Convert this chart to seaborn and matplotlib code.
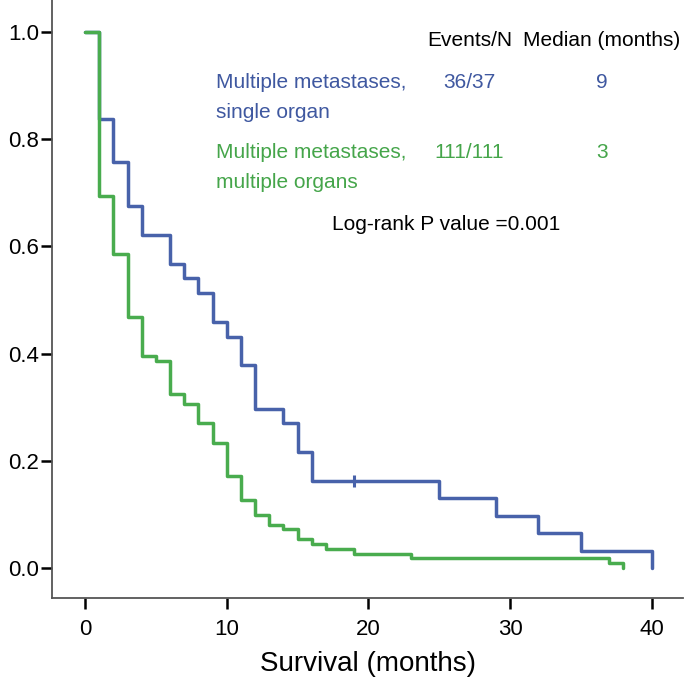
import numpy as np
import pandas as pd
import matplotlib
matplotlib.use("Agg")
import matplotlib.pyplot as plt
import seaborn as sns

# Kaplan-Meier step values
single_times = [0, 1, 2, 3, 4, 6, 7, 8, 9, 10, 11, 12, 14, 15, 16, 25, 29, 32, 35, 40]
single_surv = [1.0, 0.838, 0.757, 0.676, 0.622, 0.568, 0.541, 0.514, 0.459, 0.432,
               0.378, 0.297, 0.270, 0.216, 0.162, 0.130, 0.097, 0.065, 0.032, 0.0]
single_censor_t = [19]
single_censor_s = [0.162]

multi_times = [0, 1, 2, 3, 4, 5, 6, 7, 8, 9, 10, 11, 12, 13, 14, 15, 16, 17, 19, 23, 37, 38]
multi_surv = [1.0, 0.694, 0.586, 0.468, 0.396, 0.387, 0.324, 0.306, 0.270, 0.234, 0.171,
              0.126, 0.099, 0.081, 0.072, 0.054, 0.045, 0.036, 0.027, 0.018, 0.009, 0.0]

groups = ["single organ", "multiple organs"]
events_n = ["36/37", "111/111"]
medians = ["9", "3"]
x_ticks = [0, 10, 20, 30, 40]
y_ticks = [0.0, 0.2, 0.4, 0.6, 0.8, 1.0]

blue = "#4862AA"
green = "#49AC4E"
blue_txt = "#3F58A0"
green_txt = "#45A54A"

df = pd.concat([
    pd.DataFrame({"time": single_times, "surv": single_surv, "group": groups[0]}),
    pd.DataFrame({"time": multi_times, "surv": multi_surv, "group": groups[1]}),
])

sns.set_style("ticks")
plt.rcParams["font.family"] = ["Liberation Sans", "DejaVu Sans"]

fig = plt.figure(figsize=(6.86, 6.80), dpi=100)
ax = fig.add_axes([52 / 686, 82 / 680, 631 / 686, 598 / 680])

sns.lineplot(data=df, x="time", y="surv", hue="group", hue_order=groups,
             palette=[blue, green], estimator=None, drawstyle="steps-post",
             linewidth=2.5, legend=False, ax=ax)
ax.plot(single_censor_t, single_censor_s, marker="|", color=blue, markersize=8,
        markeredgewidth=2.2, linestyle="none")

ax.set_xlim(-2.33, 42.2)
ax.set_ylim(-0.056, 1.06)
ax.set_xticks(x_ticks)
ax.set_yticks(y_ticks)
ax.set_yticklabels([f"{v:.1f}" for v in y_ticks])
ax.tick_params(axis="both", labelsize=16, length=8, width=1.8, color="black",
               labelcolor="black")
ax.tick_params(axis="x", pad=7)
ax.tick_params(axis="y", pad=1.5)
ax.set_xlabel("Survival (months)", fontsize=20, labelpad=8, color="black")
ax.set_ylabel("")
for s in ["top", "right"]:
    ax.spines[s].set_visible(False)
for s in ["left", "bottom"]:
    ax.spines[s].set_color("#555555")
    ax.spines[s].set_linewidth(1.3)

def px(x, y):
    return (x - 52) / 631, (598 - y) / 598

fs = 15
kw = dict(transform=ax.transAxes, fontsize=fs, va="center")
ax.text(*px(470, 41), "Events/N", ha="center", color="black", **kw)
ax.text(*px(602, 41), "Median (months)", ha="center", color="black", **kw)

ax.text(*px(216, 83), "Multiple metastases,", ha="left", color=blue_txt, **kw)
ax.text(*px(216, 112), groups[0], ha="left", color=blue_txt, **kw)
ax.text(*px(469, 83), events_n[0], ha="center", color=blue_txt, **kw)
ax.text(*px(602, 83), medians[0], ha="center", color=blue_txt, **kw)

ax.text(*px(216, 153), "Multiple metastases,", ha="left", color=green_txt, **kw)
ax.text(*px(216, 183), groups[1], ha="left", color=green_txt, **kw)
ax.text(*px(469, 153), events_n[1], ha="center", color=green_txt, **kw)
ax.text(*px(602, 153), medians[1], ha="center", color=green_txt, **kw)

ax.text(*px(446, 224), "Log-rank P value =0.001", ha="center", color="black", **kw)

fig.savefig("out.png", dpi=100)
